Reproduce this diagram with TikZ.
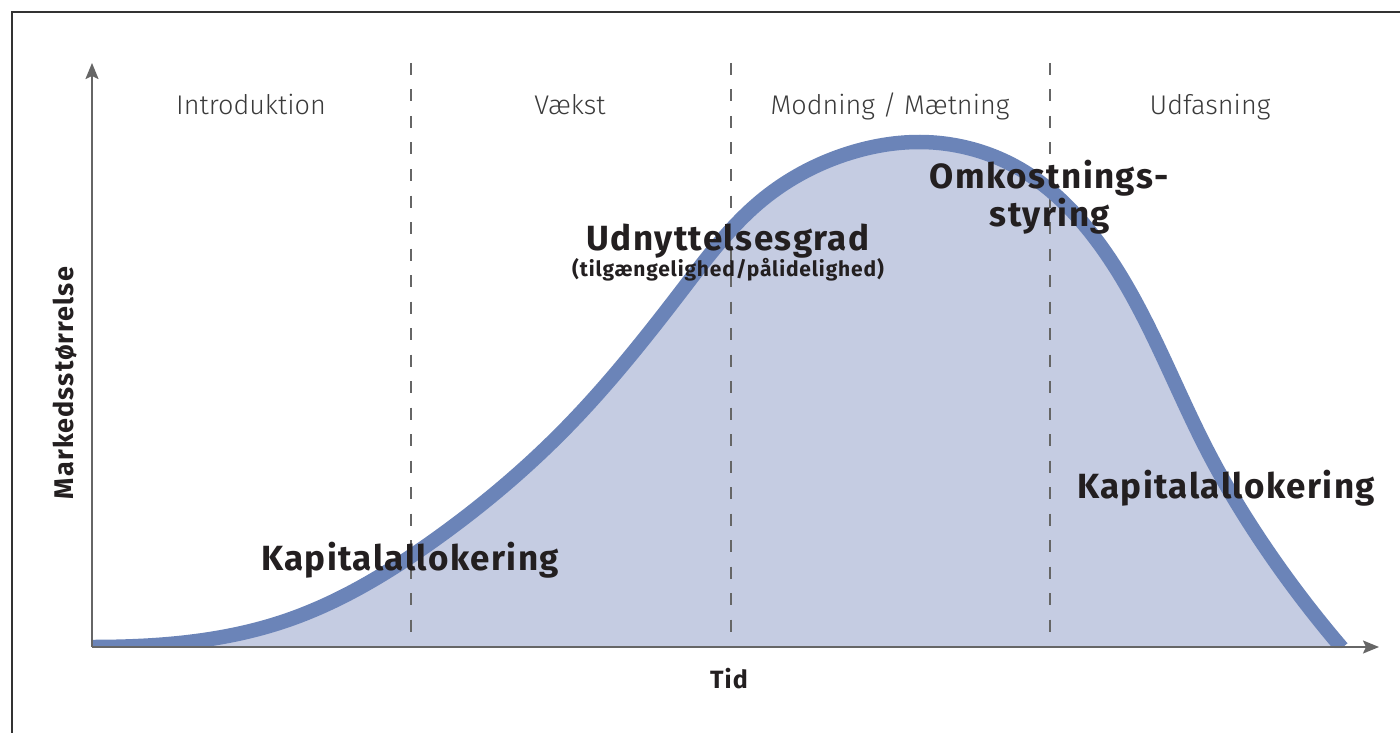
\documentclass[tikz,border=0pt]{standalone}
\usepackage{fontspec}
\setmainfont{Fira Sans}
\newfontfamily\lightf{Fira Sans Light}
\newfontfamily\spacedf[LetterSpace=4]{Fira Sans}
\usetikzlibrary{arrows.meta,hobby}
\definecolor{curvec}{HTML}{6B84B8}
\definecolor{fillc}{HTML}{C5CCE2}
\definecolor{axisc}{HTML}{666666}
\definecolor{txtc}{HTML}{231F20}
\definecolor{phasec}{HTML}{3A3A3A}
\tikzset{
  axisline/.style={draw=axisc, line width=2pt, -{Stealth[length=16pt,width=13pt,inset=3pt]}},
  divider/.style={draw=axisc, line width=1.4pt, dash pattern=on 12pt off 14.5pt},
  phase/.style={font=\lightf\fontsize{27}{30}\selectfont, text=phasec, anchor=base, inner sep=0pt},
  biglabel/.style={font=\spacedf\bfseries\fontsize{35}{40}\selectfont, text=txtc, anchor=base, inner sep=0pt},
  axislabel/.style={font=\spacedf\bfseries\fontsize{27}{30}\selectfont, text=txtc, anchor=base, inner sep=0pt},
}
\begin{document}
\begin{tikzpicture}[x=1pt,y=-1pt]
\useasboundingbox (0,0) rectangle (1400,733);
% frame
\coordinate (fTL) at (12,12);
\coordinate (fTR) at (1400,12);
\coordinate (fBL) at (12,733);
\draw[line width=2pt, draw=black!80] (fBL) -- (fTL) -- (fTR);
% curve fill (open path closes along the x axis)
\fill[fillc, use Hobby shortcut] ([out angle=0]92,647) .. (285,621) .. (433,541) .. (567,427) .. (683,289) .. (762,200) .. (853,152) .. (920,142) .. (1020,169) .. (1087,228) .. (1150,330) .. (1207,450) .. (1267,550) .. (1342,648);
% dividers
\foreach \x/\n in {411/a,731/b,1050/c}{
  \coordinate (d\n top) at (\x,63);
  \coordinate (d\n bot) at (\x,647);
  \draw[divider] (d\n top) -- (d\n bot);
}
% curve stroke
\begin{scope}
\clip (0,0) rectangle (1400,646.5);
\draw[curvec, line width=14.5pt, use Hobby shortcut] ([out angle=0]92,647) .. (285,621) .. (433,541) .. (567,427) .. (683,289) .. (762,200) .. (853,152) .. (920,142) .. (1020,169) .. (1087,228) .. (1150,330) .. (1207,450) .. (1267,550) .. (1342,648);
\end{scope}
% axes
\coordinate (O) at (92,647);
\coordinate (ytop) at (92,63);
\coordinate (xend) at (1379,647);
\draw[axisline] (O) -- (ytop);
\draw[axisline] (O) -- (xend);
% phase labels
\node[phase] (p1) at (251,115) {Introduktion};
\node[phase] (p2) at (570,115) {Vækst};
\node[phase] (p3) at (890,115) {Modning / Mætning};
\node[phase] (p4) at (1210,115) {Udfasning};
% labels
\node[biglabel] (k1) at (410,570) {Kapitalallokering};
\node[biglabel] (k2) at (1226,498) {Kapitalallokering};
\node[biglabel] (u1) at (728,250) {Udnyttelsesgrad};
\node[font=\spacedf\bfseries\fontsize{21}{24}\selectfont, text=txtc, anchor=base, inner sep=0pt] (u2) at (728,276) {(tilgængelighed/pålidelighed)};
\node[biglabel] (o1) at (1049,188) {Omkostnings-};
\node[biglabel] (o2) at (1050,226) {styring};
\node[axislabel, rotate=90] (ylab) at (73,383) {Markedsstørrelse};
\node[axislabel, font=\spacedf\bfseries\fontsize{25}{28}\selectfont] (xlab) at (729,688) {Tid};
\end{tikzpicture}
\end{document}
